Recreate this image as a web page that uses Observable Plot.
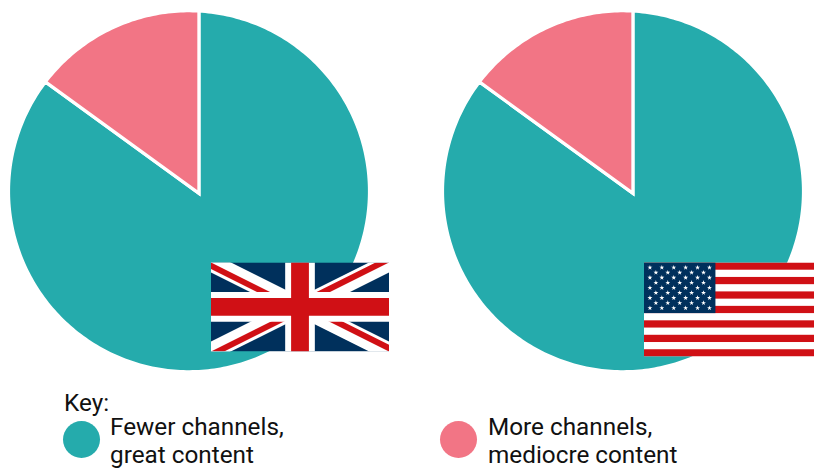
<!DOCTYPE html>
<html>
<head>
<meta charset="utf-8">
<script src="https://cdn.jsdelivr.net/npm/d3@7"></script>
<script src="https://cdn.jsdelivr.net/npm/@observablehq/plot@0.6"></script>
<style>
  html, body { margin: 0; padding: 0; background: #fff; overflow: hidden; }
  #page { position: relative; width: 814px; height: 468px; font-family: Roboto, sans-serif; color: #111; }
  #legend { position: absolute; left: 0; top: 0; width: 814px; height: 468px; pointer-events: none; }
  .t { position: absolute; font-size: 24.3px; line-height: 30px; white-space: nowrap; }
  .dot { position: absolute; width: 37px; height: 37px; border-radius: 50%; }
</style>
</head>
<body>
<div id="page"><div id="chart"></div><div id="legend"></div></div>
<script>
// Share of viewing by type of TV offer, one pie per country
const countries = ["UK", "US"];
const categories = ["Fewer channels, great content", "More channels, mediocre content"];
const shareUK = [85, 15];
const shareUS = [85, 15];
const colors = ["#25abac", "#f27585"];
const keyTitle = "Key:";
const keyLines = [["Fewer channels,", "great content"], ["More channels,", "mediocre content"]];

// The wedges meet slightly off the circle's centre
const hub = [0.055, -0.012];

// Where a ray from the hub at a clockwise angle (from 12 o'clock) meets the unit circle
function rim(angle) {
  const dx = Math.sin(angle), dy = Math.cos(angle);
  const b = hub[0] * dx + hub[1] * dy;
  const c = hub[0] * hub[0] + hub[1] * hub[1] - 1;
  const t = -b + Math.sqrt(b * b - c);
  return [hub[0] + t * dx, hub[1] + t * dy];
}

// Closed outline of a wedge; the path starts mid-arc so the hub gets a proper mitred corner
function wedge(country, category, from, to) {
  const a0 = from * 2 * Math.PI, a1 = to * 2 * Math.PI;
  const n = Math.max(4, 2 * Math.ceil((to - from) * 180));
  const arc = d3.range(n + 1).map(i => rim(a0 + (a1 - a0) * i / n));
  const mid = n / 2;
  const outline = [...arc.slice(mid), hub, ...arc.slice(0, mid + 1)];
  return outline.map(([x, y]) => ({country, category, x, y}));
}

function pie(country, shares) {
  const total = d3.sum(shares);
  let run = 0;
  return shares.flatMap((v, i) => {
    const rows = wedge(country, categories[i], run / total, (run + v) / total);
    run += v;
    return rows;
  });
}

const wedges = [...pie(countries[0], shareUK), ...pie(countries[1], shareUS)];

// Flag artwork
const navy = "#00305c", red = "#d01015";
const svgUri = s => "data:image/svg+xml;charset=utf-8," + encodeURIComponent(s);

const unionJack = svgUri(`<svg xmlns="http://www.w3.org/2000/svg" viewBox="0 0 60 30" width="712" height="356" preserveAspectRatio="none">
<clipPath id="t"><path d="M30,15 h30 v15 z v15 h-30 z h-30 v-15 z v-15 h30 z"/></clipPath>
<rect width="60" height="30" fill="${navy}"/>
<path d="M0,0 L60,30 M60,0 L0,30" stroke="#fff" stroke-width="6"/>
<path d="M0,0 L60,30 M60,0 L0,30" clip-path="url(#t)" stroke="${red}" stroke-width="4"/>
<path d="M30,0 v30 M0,15 h60" stroke="#fff" stroke-width="10"/>
<path d="M30,0 v30 M0,15 h60" stroke="${red}" stroke-width="6"/>
</svg>`);

function starsAndStripes() {
  const W = 1235, H = 650, sh = H / 13, cw = 494, ch = sh * 7;
  const star = (cx, cy, r) => {
    const pts = d3.range(10).map(i => {
      const a = -Math.PI / 2 + i * Math.PI / 5, q = i % 2 ? r * 0.382 : r;
      return `${cx + q * Math.cos(a)},${cy + q * Math.sin(a)}`;
    });
    return `<polygon points="${pts.join(" ")}" fill="#fff"/>`;
  };
  let s = `<svg xmlns="http://www.w3.org/2000/svg" viewBox="0 0 ${W} ${H}" width="${W}" height="${H}" preserveAspectRatio="none"><rect width="${W}" height="${H}" fill="#fff"/>`;
  for (let i = 0; i < 13; i += 2) s += `<rect y="${i * sh}" width="${W}" height="${sh}" fill="${red}"/>`;
  s += `<rect width="${cw}" height="${ch}" fill="${navy}"/>`;
  const dx = cw / 12, dy = ch / 10;
  for (let r = 0; r < 9; r++) {
    const count = r % 2 ? 5 : 6;
    for (let c = 0; c < count; c++) {
      s += star((r % 2 ? 2 : 1) * dx + c * 2 * dx, (r + 1) * dy, 18);
    }
  }
  return svgUri(s + "</svg>");
}

const flags = [
  {country: countries[0], src: unionJack, x: 0.615, y: -0.641, w: 178, h: 89},
  {country: countries[1], src: starsAndStripes(), x: 0.611, y: -0.655, w: 178.6, h: 94}
];

const chart = Plot.plot({
  width: 814,
  height: 385,
  marginLeft: 7.5,
  marginRight: 11.5,
  marginTop: 10.25,
  marginBottom: 13.75,
  x: {domain: [-1, 1], axis: null},
  y: {domain: [-1, 1], axis: null},
  fx: {domain: countries, axis: null, paddingInner: 73 / 434, paddingOuter: 0, align: 0.5},
  color: {domain: categories, range: colors},
  style: {background: "transparent", overflow: "visible"},
  marks: [
    Plot.line(wedges, {
      fx: "country", x: "x", y: "y", z: "category", fill: "category",
      stroke: "#fff", strokeWidth: 3.2, strokeLinejoin: "miter", strokeMiterlimit: 8, strokeOpacity: 1
    }),
    Plot.image(flags, {
      fx: "country", x: "x", y: "y", src: "src",
      width: "w", height: "h", preserveAspectRatio: "none"
    })
  ]
});
document.getElementById("chart").appendChild(chart);

// Key below the pies
const legend = document.getElementById("legend");
function addText(txt, left, top) {
  const d = document.createElement("div");
  d.className = "t"; d.textContent = txt;
  d.style.left = left + "px"; d.style.top = top + "px";
  legend.appendChild(d);
}
addText(keyTitle, 64, 388);
[[63, 110], [440, 488]].forEach(([dot, text], i) => {
  const c = document.createElement("div");
  c.className = "dot"; c.style.background = colors[i];
  c.style.left = dot + "px"; c.style.top = "421px";
  legend.appendChild(c);
  addText(keyLines[i][0], text, 412);
  addText(keyLines[i][1], text, 440);
});
</script>
</body>
</html>
